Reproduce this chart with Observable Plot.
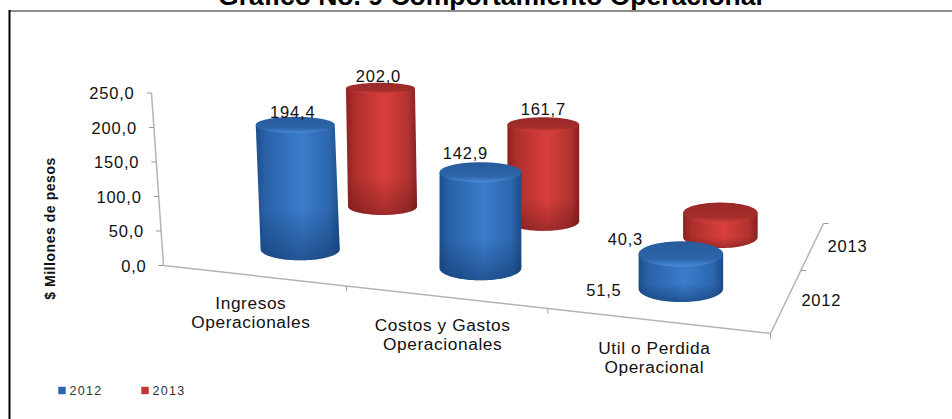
<!DOCTYPE html>
<html><head><meta charset="utf-8">
<script src="https://cdn.jsdelivr.net/npm/d3@7"></script>
<script src="https://cdn.jsdelivr.net/npm/@observablehq/plot@0.6"></script>
<style>
html,body{margin:0;padding:0;background:#fff;overflow:hidden}
svg{display:block}
.lab text{letter-spacing:.8px}
.cat text{letter-spacing:.6px}
.ytitle text{letter-spacing:.55px}
.leg text{letter-spacing:1.3px}
</style></head><body>
<script>
const categories = ["Ingresos\nOperacionales","Costos y Gastos\nOperacionales","Util o Perdida\nOperacional"];
const seriesNames = ["2012","2013"];
const values2012 = [194.4,142.9,51.5];
const values2013 = [202.0,161.7,40.3];
const yTicks = [0,50,100,150,200,250];
const chartTitle = "Gráfico No. 9 Comportamiento Operacional";
const yTitle = "$ Millones de pesos";

// value-label positions relative to the centre of each cylinder's top, [dx, dy]
const nudge2012 = [[-2.5,-12.5],[-15,-18.5],[-77,37]];
const nudge2013 = [[-2,-11.5],[0,-15],[-95,26.5]];

const fmt = v => v.toFixed(1).replace(".",",");

// 3-D chart projection: u along categories (0..3), w depth (0..2), v value
const C = [[163,265],[770,333],[823,223],[347,182]];
const homog = (() => {
  const [[x0,y0],[x1,y1],[x2,y2],[x3,y3]] = C;
  const dx1=x1-x2, dx2=x3-x2, sx=x0-x1+x2-x3, dy1=y1-y2, dy2=y3-y2, sy=y0-y1+y2-y3;
  const den=dx1*dy2-dx2*dy1, g=(sx*dy2-dx2*sy)/den, h=(dx1*sy-sx*dy1)/den;
  const a=x1-x0+g*x1, b=x3-x0+h*x3, d=y1-y0+g*y1, e=y3-y0+h*y3;
  return (s,t)=>{const q=g*s+h*t+1; return [(a*s+b*t+x0)/q,(d*s+e*t+y0)/q];};
})();
function project(u,w,v=0,kAdj=0){
  const [x,y]=homog(u/3,w/2);
  const k=.69-.07*w+kAdj, lean=Math.min(0,-.048+.03*u+.015*w);
  return [x+lean*v, y-k*v];
}
const radiusX=(u,w)=>39.5+1.4*(u-.5)-5*(w-.5);
const radiusY=(u,w,v)=>11+1.25*(u-.5)-2.5*(w-.5)-.015*v;
const heightAdj=(u,w)=>w<1?.03*(Math.min(u,1.5)-1):(u<1?0:.012);
const floorBias=u=>u<2?-3:0;

const bodyPts=[], capPts=[];
const labels=[];
const STEPS=48;
[values2012,values2013].forEach((vals,si)=>{
  vals.forEach((v,ci)=>{
    const u=ci+.5, w=si+.5, rx=radiusX(u,w), bias=floorBias(u);
    let [tx,ty]=project(u,w,v,heightAdj(u,w)), [bx,by]=project(u,w,0);
    tx+=bias; bx+=bias;
    const rt=radiusY(u,w,v), rb=radiusY(u,w,0), id=si+"-"+ci;
    bodyPts.push({id,s:si,x:tx-rx,y:ty});
    for(let i=0;i<=STEPS;i++){const a=Math.PI*(1-i/STEPS);
      bodyPts.push({id,s:si,x:bx+rx*Math.cos(a),y:by+rb*Math.sin(a)});}
    bodyPts.push({id,s:si,x:tx+rx,y:ty});
    for(let i=0;i<STEPS*2;i++){const a=Math.PI*i/STEPS;
      capPts.push({id,s:si,x:tx+rx*Math.cos(a),y:ty+rt*Math.sin(a)});}
    const n=(si?nudge2013:nudge2012)[ci];
    labels.push({t:fmt(v),x:tx+n[0],y:ty+n[1]});
  });
});
const ofSeries=(arr,s)=>arr.filter(d=>d.s===s);

const edges=[
  {a:project(0,0,0),b:project(0,0,250)},
  {a:project(0,0,0),b:project(3,0,0)},
  {a:project(3,0,0),b:project(3,2,0)}
];
const axisTicks=[
  ...yTicks.map(v=>{const p=project(0,0,v);return {a:p,b:[p[0]-5,p[1]]};}),
  ...[1,2,3].map(u=>{const p=project(u,0,0);return {a:p,b:[p[0],p[1]+5]};}),
  ...[1,2].map(w=>{const p=project(3,w,0);return {a:p,b:[p[0]+5,p[1]]};})
];
const lineOpts={x1:d=>d.a[0],y1:d=>d.a[1],x2:d=>d.b[0],y2:d=>d.b[1],stroke:"#b4b4b4"};

const defs=()=>{
  const NS="http://www.w3.org/2000/svg";
  const el=(n,at,kids=[])=>{const e=document.createElementNS(NS,n);for(const k in at)e.setAttribute(k,at[k]);kids.forEach(c=>e.appendChild(c));return e;};
  const stops=a=>a.map(([o,c,op])=>el("stop",{offset:o,"stop-color":c,"stop-opacity":op??1}));
  const lin=(id,vert,a)=>el("linearGradient",{id,x1:0,y1:0,x2:vert?0:1,y2:vert?1:0},stops(a));
  return el("defs",{},[
    lin("bBody",false,[[0,"#1d4f8c"],[.12,"#2a62a8"],[.55,"#3b7ccb"],[.88,"#2c66ad"],[1,"#1c4c86"]]),
    lin("rBody",false,[[0,"#8c2322"],[.12,"#ad2e2c"],[.55,"#d93f3c"],[.88,"#b03230"],[1,"#852120"]]),
    lin("bShade",true,[[0,"#0f3568",0],[.62,"#0f3568",0],[1,"#0f3568",.55]]),
    lin("rShade",true,[[0,"#5c1414",0],[.7,"#5c1414",0],[1,"#5c1414",.45]]),
    lin("bTop",true,[[0,"#285b9c"],[.7,"#2d65aa"],[1,"#4a8bd8"]]),
    lin("rTop",true,[[0,"#992a28"],[.7,"#a32d2b"],[1,"#d8413d"]])
  ]);
};

const bodyMark=(s,fill)=>Plot.line(ofSeries(bodyPts,s),{x:"x",y:"y",z:"id",fill,stroke:"none"});
const capMark=(s,fill)=>Plot.line(ofSeries(capPts,s),{x:"x",y:"y",z:"id",fill,stroke:"none"});

const font="Liberation Sans";
const plot=Plot.plot({
  width:952,height:419,margin:0,
  x:{domain:[0,952],range:[0,952],axis:null},
  y:{domain:[0,419],range:[0,419],axis:null},
  style:{background:"#fff",fontFamily:font},
  marks:[
    defs,
    Plot.link(edges,{...lineOpts,strokeWidth:1.5}),
    Plot.link(axisTicks,{...lineOpts,strokeWidth:1,stroke:"#999"}),
    bodyMark(1,"url(#rBody)"),bodyMark(1,"url(#rShade)"),capMark(1,"url(#rTop)"),
    bodyMark(0,"url(#bBody)"),bodyMark(0,"url(#bShade)"),capMark(0,"url(#bTop)"),
    Plot.text(labels,{x:"x",y:"y",text:"t",fontSize:16.5,fill:"#111",className:"lab"}),
    Plot.text(yTicks,{x:v=>project(0,0,v)[0]-17,y:v=>project(0,0,v)[1]+1,text:fmt,textAnchor:"end",fontSize:16.5,fill:"#111",className:"lab"}),
    Plot.text(categories,{x:(d,i)=>project(i+.5,0,0)[0]-2,y:(d,i)=>project(i+.5,0,0)[1]+37,text:d=>d,lineHeight:1.1,fontSize:17.3,fill:"#111",className:"cat"}),
    Plot.text(seriesNames,{x:(d,i)=>project(3,i+.5,0)[0]+34.5,y:(d,i)=>project(3,i+.5,0)[1]+1.5,text:d=>d,fontSize:16.5,fill:"#111",className:"lab"}),
    Plot.text([yTitle],{x:50,y:228,text:d=>d,rotate:-90,fontWeight:"bold",fontSize:14,fill:"#111",className:"ytitle"}),
    Plot.text([chartTitle],{x:490,y:4,text:d=>d,fontWeight:"bold",fontSize:26.5,fill:"#000",lineAnchor:"bottom"}),
    Plot.ruleY([10.5],{x1:9,x2:952,stroke:"#666",strokeWidth:1.5}),
    Plot.ruleX([9],{y1:10,y2:419,stroke:"#000",strokeWidth:2}),
    Plot.dot(seriesNames,{x:(d,i)=>61.5+i*83,y:390,r:4.2,symbol:"square",fill:(d,i)=>i?"#c83431":"#2d66ad"}),
    Plot.text(seriesNames,{x:(d,i)=>69+i*83,y:390,text:d=>d,textAnchor:"start",fontSize:12.5,fill:"#333",className:"leg"})
  ]
});
document.body.appendChild(plot);
</script></body></html>
